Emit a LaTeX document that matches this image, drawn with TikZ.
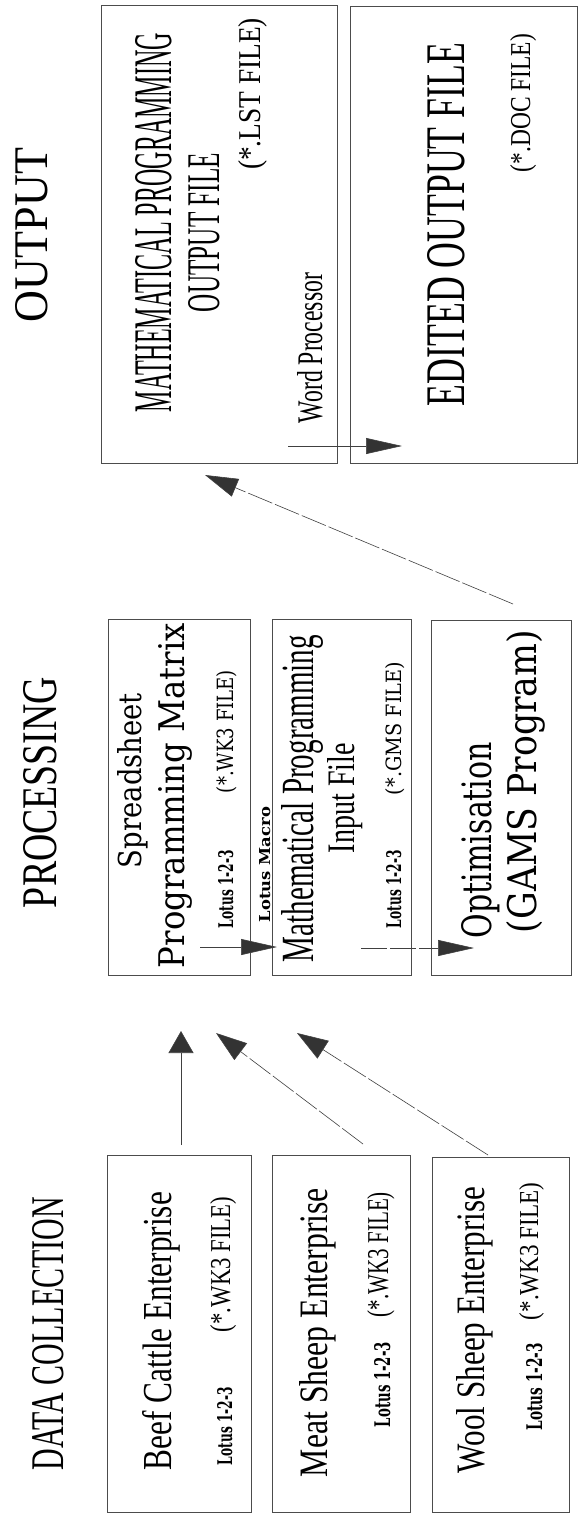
\documentclass[tikz,border=0pt]{standalone}
\usepackage{fontspec}
\setmainfont{Liberation Serif}
\newfontfamily\slabfont{DejaVu Serif}
\newfontfamily\widefont{DejaVu Serif}
\usetikzlibrary{arrows.meta,fit}
\newcommand{\rtext}[7]{\node[txt] (#1) at (#2,#3) {\resizebox{#4pt}{#5pt}{#6#7}};}
\tikzset{
  txt/.style={rotate=90,anchor=base west,inner sep=0pt,outer sep=0pt},
  boxst/.style={draw=black!70,line width=0.7pt,inner sep=0pt,fill=none},
  conn/.style={draw=black!75,line width=0.6pt},
  dconn/.style={conn,dash pattern=on 26pt off 3pt},
  tipdiag/.style={-{Triangle[length=31pt,width=21pt,fill=black!80]}},
  tipvert/.style={-{Triangle[length=22pt,width=25pt,fill=black!80]}},
  tiphor/.style={-{Triangle[length=36pt,width=16pt,fill=black!80]}},
  tipout/.style={-{Triangle[length=33pt,width=19pt,fill=black!80]}}
}
\begin{document}
\begin{tikzpicture}[x=1pt,y=-1pt]
\fill[white] (0,0) rectangle (582,1517);
\useasboundingbox (0,0) rectangle (582,1517);

% boxes
\node[boxst,fit={(107,1155) (251,1512)}] (beef) {};
\node[boxst,fit={(272,1155) (410,1512)}] (meat) {};
\node[boxst,fit={(432,1157) (569,1512)}] (wool) {};
\node[boxst,fit={(108,619) (250,975)}] (sprd) {};
\node[boxst,fit={(272,619) (411,975)}] (mpin) {};
\node[boxst,fit={(431,620) (571,975)}] (opt) {};
\node[boxst,fit={(101,5) (337,463)}] (mpout) {};
\node[boxst,fit={(350,6) (577,463)}] (edit) {};

% headers
\rtext{hdata}{63}{1470}{273}{31}{}{DATA COLLECTION}
\rtext{hproc}{56}{908}{231}{33}{}{PROCESSING}
\rtext{hout}{47}{322}{174}{32}{}{OUTPUT}

% data collection texts
\rtext{tbeef}{171}{1470}{278}{29}{}{Beef Cattle Enterprise}
\rtext{lbeef}{232}{1465}{78}{15}{\slabfont\bfseries}{Lotus 1-2-3}
\rtext{fbeef}{230}{1332}{135}{20}{}{(*.WK3 FILE)}
\rtext{tmeat}{327}{1477}{289}{28}{}{Meat Sheep Enterprise}
\rtext{lmeat}{390}{1427}{85}{16}{\slabfont\bfseries}{Lotus 1-2-3}
\rtext{fmeat}{388}{1317}{125}{21}{}{(*.WK3 FILE)}
\rtext{twool}{484}{1473}{286}{28}{}{Wool Sheep Enterprise}
\rtext{lwool}{542}{1430}{87}{16}{\slabfont\bfseries}{Lotus 1-2-3}
\rtext{fwool}{538}{1320}{137}{19}{}{(*.WK3 FILE)}

% processing texts
\rtext{tsp1}{141}{868}{175}{24}{\widefont}{Spreadsheet}
\rtext{tsp2}{184}{968}{345}{26}{\widefont}{Programming Matrix}
\rtext{lsp}{233}{928}{78}{15}{\slabfont\bfseries}{Lotus 1-2-3}
\rtext{fsp}{233}{793}{123}{17}{\slabfont}{(*.WK3 FILE)}
\rtext{macro}{270}{922}{115}{11}{\slabfont\bfseries}{Lotus Macro}
\rtext{tmp1}{313}{962}{327}{32}{}{Mathematical Programming}
\rtext{tmp2}{354}{853}{110}{27}{}{Input File}
\rtext{lmp}{401}{928}{78}{15}{\slabfont\bfseries}{Lotus 1-2-3}
\rtext{fmp}{401}{795}{133}{16}{\slabfont}{(*.GMS FILE)}
\rtext{topt1}{491}{938}{196}{30}{\widefont}{Optimisation}
\rtext{topt2}{536}{933}{303}{30}{\widefont}{(GAMS Program)}

% output texts
\rtext{tout1}{171}{412}{379}{36}{}{MATHEMATICAL PROGRAMMING}
\rtext{tout2}{219}{312}{159}{31}{}{OUTPUT FILE}
\rtext{tlst}{260}{170}{152}{22}{}{(*.LST FILE)}
\rtext{twp}{322}{423}{150}{25}{}{Word Processor}
\rtext{ted}{464}{406}{363}{37}{}{EDITED OUTPUT FILE}
\rtext{tdoc}{530}{172}{138}{20}{}{(*.DOC FILE)}

% connector end points
\coordinate (a1s) at (181,1145); \coordinate (a1t) at (181,1031);
\coordinate (a2s) at (363,1144); \coordinate (a2t) at (216,1033);
\coordinate (a3s) at (488,1155); \coordinate (a3t) at (297,1033);
\coordinate (a4s) at (200,947);  \coordinate (a4t) at (277,947);
\coordinate (a5s) at (361,948);  \coordinate (a5t) at (474,948);
\coordinate (a6s) at (513,604);  \coordinate (a6t) at (205,475);
\coordinate (a7s) at (288,446);  \coordinate (a7t) at (402,446);

\draw[conn,tipvert] (a1s) -- (a1t);
\draw[dconn,tipdiag] (a2s) -- (a2t);
\draw[dconn,tipdiag] (a3s) -- (a3t);
\draw[conn,tiphor] (a4s) -- (a4t);
\draw[dconn,tiphor] (a5s) -- (a5t);
\draw[dconn,tipout] (a6s) -- (a6t);
\draw[conn,tiphor] (a7s) -- (a7t);
\end{tikzpicture}
\end{document}
